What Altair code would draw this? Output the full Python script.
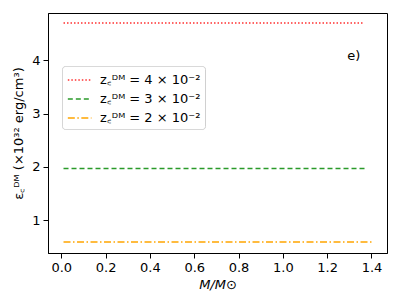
import altair as alt
import pandas as pd

series = ["4", "3", "2"]
labels = ["z꜀ᴰᴹ = 4 × 10⁻²", "z꜀ᴰᴹ = 3 × 10⁻²", "z꜀ᴰᴹ = 2 × 10⁻²"]
x_start = [0.01, 0.01, 0.01]
x_end = [1.36, 1.38, 1.40]
y_val = [4.70, 1.97, 0.585]
colors = ["#ff3030", "#2a9a2a", "#ffa500"]
dashes = [[1.5, 2], [5, 3], [7, 2.5, 1.5, 2.5]]

rows = []
for lab, xs, xe, y in zip(labels, x_start, x_end, y_val):
    rows.append({"s": lab, "x": xs, "y": y})
    rows.append({"s": lab, "x": xe, "y": y})
df = pd.DataFrame(rows)

font = "DejaVu Sans"

lines = alt.Chart(df).mark_line(strokeWidth=1.5).encode(
    x=alt.X("x:Q", scale=alt.Scale(domain=[-0.06, 1.47], nice=False, zero=False),
            axis=alt.Axis(values=[0, 0.2, 0.4, 0.6, 0.8, 1.0, 1.2, 1.4], format=".1f",
                          title="M/M⊙", titleFontStyle="italic", grid=False)),
    y=alt.Y("y:Q", scale=alt.Scale(domain=[0.38, 4.89], nice=False, zero=False),
            axis=alt.Axis(values=[1, 2, 3, 4], format="d",
                          title="ε꜀ᴰᴹ (×10³² erg/cm³)", grid=False)),
    color=alt.Color("s:N", scale=alt.Scale(domain=labels, range=colors),
                    legend=alt.Legend(title=None, orient="none", legendX=14, legendY=53,
                                      symbolType="M-0.9,0L1.7,0", symbolSize=330,
                                      symbolStrokeWidth=1.5,
                                      labelFontSize=13, labelFont=font, rowPadding=2,
                                      strokeColor="#cccccc", fillColor="white", padding=4,
                                      cornerRadius=3, labelLimit=200, labelOffset=14)),
    strokeDash=alt.StrokeDash("s:N", scale=alt.Scale(domain=labels, range=dashes), legend=None),
)

note = alt.Chart(pd.DataFrame({"x": [1.32], "y": [4.08], "t": ["e)"]})).mark_text(
    font=font, fontSize=13, color="black"
).encode(x="x:Q", y="y:Q", text="t:N")

chart = alt.layer(lines, note).properties(
    width=339, height=240,
    autosize=alt.AutoSizeParams(type="none"),
    padding={"left": 40, "top": 5, "right": 5, "bottom": 40},
).configure_axis(
    labelFont=font, titleFont=font, labelFontSize=13, titleFontSize=13,
    labelColor="black", titleColor="black", tickColor="black", domainColor="black",
    titleFontWeight="normal", tickSize=5, labelPadding=3,
).configure_axisY(titlePadding=6).configure_axisX(titlePadding=4).configure_view(
    stroke="black", strokeWidth=1
).configure_legend(strokeDash=[1, 0])

chart.save("out.html", embed_options={"renderer": "svg", "actions": False})
